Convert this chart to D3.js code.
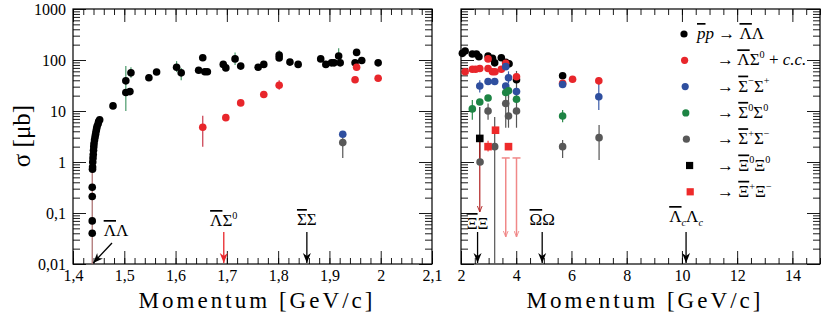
<!DOCTYPE html>
<html>
<head>
<meta charset="utf-8">
<script src="https://cdn.jsdelivr.net/npm/d3@7"></script>
<style>
  body { margin: 0; background: #fff; }
  svg text { font-family: "Liberation Serif", "Times New Roman", Times, serif !important; fill: #000; }
</style>
</head>
<body>
<div id="chart"><svg></svg></div>
<script>
// momentum [GeV/c], cross section [mub]
const lambdaLambda = [
  [1.4375, 0.04], [1.4375, 0.07], [1.4375, 0.21], [1.4375, 0.32], [1.438, 0.72], [1.4382, 0.8],
  [1.4385, 1.0], [1.439, 1.2], [1.4395, 1.4], [1.440, 1.7], [1.4405, 2.0], [1.441, 2.3],
  [1.442, 2.7], [1.443, 3.1], [1.444, 3.5], [1.445, 4.0], [1.446, 4.5], [1.447, 5.0],
  [1.449, 5.6], [1.450, 6.2], [1.452, 6.7], [1.478, 12.6], [1.503, 23], [1.503, 39],
  [1.511, 24], [1.513, 56], [1.548, 45], [1.563, 58], [1.602, 72], [1.611, 56],
  [1.645, 63], [1.653, 111], [1.657, 59], [1.662, 59], [1.693, 82], [1.698, 70],
  [1.716, 105], [1.727, 76], [1.761, 72], [1.772, 82], [1.802, 125], [1.802, 110],
  [1.823, 91], [1.839, 82], [1.883, 105], [1.893, 82], [1.904, 88], [1.909, 88],
  [1.918, 120], [1.921, 88], [1.950, 88], [1.953, 141], [1.963, 98], [1.995, 88],
  [2.05, 135], [2.15, 150], [2.41, 131], [2.56, 131], [2.65, 116], [2.98, 120],
  [3.14, 108], [3.22, 88], [3.46, 111], [3.62, 90], [3.74, 84], [4.01, 41], [5.68, 49]
];
const lambdaSigma0 = [
  [1.653, 4.8], [1.698, 7.4], [1.727, 14.4], [1.772, 21], [1.802, 32], [1.950, 41],
  [1.953, 72], [1.995, 44], [2.15, 59], [2.41, 66], [2.53, 66], [2.68, 68], [2.98, 105],
  [2.98, 68], [3.14, 59], [3.23, 59], [3.46, 66], [3.62, 86], [4.01, 47], [5.68, 35],
  [6.04, 42], [6.99, 39]
];
const sigmaMinusPlus = [
  [1.926, 3.5], [2.68, 31], [2.98, 38], [3.22, 38], [3.62, 74], [3.72, 45], [3.62, 31],
  [4.01, 24], [5.68, 33], [6.99, 19]
];
const sigma00 = [[2.41, 11], [2.68, 15], [2.98, 18], [3.62, 23], [3.72, 25], [4.01, 17], [5.68, 8]];
const sigmaPlusMinus = [
  [1.926, 2.4], [2.69, 1.0], [2.98, 10], [3.22, 2.0], [3.62, 14], [3.72, 8], [4.01, 10],
  [5.68, 2.0], [7.0, 3.0]
];
const xi00 = [[2.68, 2.9]];
const xiPlusMinus = [[2.98, 2.0], [3.25, 4.2], [3.72, 2.0]];

// error bars: [p, low, high]
const errLambdaLambda = [[1.503, 10, 76], [1.513, 45, 72], [1.602, 58, 95], [1.611, 40, 70],
  [1.716, 80, 140], [1.802, 110, 155], [1.918, 100, 170]];
const errLambdaSigma0 = [[1.653, 2.0, 8.1], [1.802, 26, 40], [4.01, 35, 55], [6.99, 33, 46]];
const errSigmaMinusPlus = [[2.68, 23, 40], [6.99, 10.5, 35], [3.72, 35, 60]];
const errSigma00 = [[2.41, 6.7, 16.5], [5.68, 6, 10.5], [3.72, 18, 32]];
const errSigmaPlusMinus = [[1.926, 1.2, 3.0], [2.98, 6.7, 14], [3.22, 0.01, 7.6], [3.62, 4.7, 24],
  [3.72, 4.7, 26], [4.01, 4.7, 61], [5.68, 1.2, 2.7], [7.0, 1.1, 5.3]];
const errXi00 = [[2.68, 1.0, 12]];
const errXiPlusMinus = [[2.98, 1.6, 2.6]];

// upper limits / threshold lines: [p, top, bottom]
const limitsPink = [[3.62, 1.2, 0.034], [4.01, 1.2, 0.034]];
const limitsDark = [[2.68, 2.9, 0.105]];
const thresholdLine = [[1.4375, 1.5, 0.01]];

const yTicks = [0.01, 0.1, 1, 10, 100, 1000];
const yTickLabels = ['0,01', '0,1', '1', '10', '100', '1000'];
const leftXTicks = [1.4, 1.5, 1.6, 1.7, 1.8, 1.9, 2.0, 2.1];
const leftXTickLabels = ['1,4', '1,5', '1,6', '1,7', '1,8', '1,9', '2', '2,1'];
const rightXTicks = [2, 4, 6, 8, 10, 12, 14];

const width = 822;
const height = 321;
const plotTop = 9;
const plotBottom = 264;
const serif = '"Liberation Serif", "Times New Roman", Times, serif';

const svg = d3.select('#chart svg').attr('width', width).attr('height', height)
  .attr('font-family', serif);

const y = d3.scaleLog().domain([0.01, 1000]).range([plotBottom, plotTop]);
const yMinor = [];
[0.01, 0.1, 1, 10, 100].forEach(function(d) {
  for (let k = 2; k <= 9; k++) yMinor.push(d * k);
});

// left panel holds data up to 2.0 GeV/c, right panel the rest
const panels = [
  { x: d3.scaleLinear().domain([1.4, 2.1]).range([73, 432]), pMin: 1.4, pMax: 2.0, ticks: leftXTicks, labels: leftXTickLabels, minor: 0.02, yLabels: true },
  { x: d3.scaleLinear().domain([2, 15]).range([461, 820]), pMin: 2.0001, pMax: 15, ticks: rightXTicks, labels: rightXTicks.map(String), minor: 0.5, yLabels: false }
];

const series = [
  { name: 'll', data: lambdaLambda, err: errLambdaLambda, color: '#000', errColor: '#4a9a6a', shape: 'circle' },
  { name: 'ls', data: lambdaSigma0, err: errLambdaSigma0, color: '#e8262b', errColor: '#c8384a', shape: 'circle' },
  { name: 'smp', data: sigmaMinusPlus, err: errSigmaMinusPlus, color: '#2f4f9f', errColor: '#3a5aa8', shape: 'circle' },
  { name: 's00', data: sigma00, err: errSigma00, color: '#1d8444', errColor: '#2a8a4a', shape: 'circle' },
  { name: 'spm', data: sigmaPlusMinus, err: errSigmaPlusMinus, color: '#585858', errColor: '#555', shape: 'circle' },
  { name: 'x00', data: xi00, err: errXi00, color: '#000', errColor: '#222', shape: 'square' },
  { name: 'xpm', data: xiPlusMinus, err: errXiPlusMinus, color: '#ee2a2a', errColor: '#e44', shape: 'square' }
];

// rich text: segments {t, it, over, sup, sub}
function richText(sel, segs, fs) {
  let shift = 0;
  segs.forEach(function(s) {
    const target = s.sup ? -fs * 0.42 : (s.sub ? fs * 0.25 : 0);
    const t = sel.append('tspan').text(s.t).attr('dy', target - shift);
    shift = target;
    if (s.sup || s.sub) t.style('font-size', (fs * 0.6) + 'px');
    if (s.it) t.style('font-style', 'italic');
    if (s.over) t.style('text-decoration', 'overline');
  });
}

const defs = svg.append('defs');
function arrowMarker(id, color) {
  defs.append('marker').attr('id', id)
    .attr('viewBox', '0 0 10 10').attr('refX', 10).attr('refY', 5)
    .attr('markerWidth', 10).attr('markerHeight', 10).attr('markerUnits', 'userSpaceOnUse')
    .attr('orient', 'auto')
    .append('path').attr('d', 'M0,1 L10,5 L0,9 L3,5 Z').attr('fill', color);
}
arrowMarker('arrBlack', '#000');
arrowMarker('arrRed', '#e8262b');
function openMarker(id, color) {
  defs.append('marker').attr('id', id)
    .attr('viewBox', '0 0 10 10').attr('refX', 10).attr('refY', 5)
    .attr('markerWidth', 6).attr('markerHeight', 6).attr('markerUnits', 'userSpaceOnUse')
    .attr('orient', 'auto')
    .append('path').attr('d', 'M0,1 L10,5 L0,9').attr('fill', 'none').attr('stroke', color).attr('stroke-width', 1.5);
}
openMarker('limPink', '#f08888');
openMarker('limDark', '#b02020');

panels.forEach(function(pn, i) {
  const x = pn.x;
  const [x0, x1] = x.range();
  const g = svg.append('g').attr('class', 'panel-' + i);
  const inDomain = function(d) { return d[0] >= pn.pMin && d[0] <= pn.pMax; };

  // axes
  const xMinor = d3.range(x.domain()[0], x.domain()[1] + 1e-9, pn.minor);
  g.append('g').attr('transform', 'translate(0,' + plotBottom + ')')
    .call(d3.axisBottom(x).tickValues(xMinor).tickSizeInner(-6).tickSizeOuter(0).tickFormat(''));
  g.append('g').attr('transform', 'translate(0,' + plotBottom + ')')
    .call(d3.axisBottom(x).tickValues(pn.ticks).tickSizeInner(-13).tickSizeOuter(0).tickPadding(6)
      .tickFormat(function(d, j) { return pn.labels[j]; }));
  g.append('g').attr('transform', 'translate(0,' + plotTop + ')')
    .call(d3.axisTop(x).tickValues(xMinor).tickSizeInner(-6).tickSizeOuter(0).tickFormat(''));
  g.append('g').attr('transform', 'translate(0,' + plotTop + ')')
    .call(d3.axisTop(x).tickValues(pn.ticks).tickSizeInner(-13).tickSizeOuter(0).tickFormat(''));

  g.append('g').attr('transform', 'translate(' + x0 + ',0)')
    .call(d3.axisLeft(y).tickValues(yMinor).tickSizeInner(-7).tickSizeOuter(0).tickFormat(''));
  g.append('g').attr('transform', 'translate(' + x0 + ',0)')
    .call(d3.axisLeft(y).tickValues(yTicks).tickSizeInner(-13).tickSizeOuter(0).tickPadding(7)
      .tickFormat(function(d, j) { return pn.yLabels ? yTickLabels[j] : ''; }));
  g.append('g').attr('transform', 'translate(' + x1 + ',0)')
    .call(d3.axisRight(y).tickValues(yMinor).tickSizeInner(-7).tickSizeOuter(0).tickFormat(''));
  g.append('g').attr('transform', 'translate(' + x1 + ',0)')
    .call(d3.axisRight(y).tickValues(yTicks).tickSizeInner(-13).tickSizeOuter(0).tickFormat(''));

  g.selectAll('.domain').remove();
  g.selectAll('g').attr('font-family', serif);
  g.selectAll('.tick line').attr('stroke', '#000').attr('stroke-width', 0.9);
  g.selectAll('.tick text').style('font-size', '16px').attr('fill', '#000');

  g.append('rect').attr('x', x0).attr('y', plotTop).attr('width', x1 - x0).attr('height', plotBottom - plotTop)
    .attr('fill', 'none').attr('stroke', '#000').attr('stroke-width', 1.2);

  // x title
  g.append('text').attr('x', (x0 + x1) / 2 + 3).attr('y', 308).attr('text-anchor', 'middle')
    .attr('textLength', 234).attr('lengthAdjust', 'spacing')
    .style('font-size', '23px').text('Momentum [GeV/c]');

  const plot = g.append('g');

  thresholdLine.filter(inDomain).forEach(function(d) {
    plot.append('line').attr('x1', x(d[0])).attr('x2', x(d[0])).attr('y1', y(d[1])).attr('y2', y(d[2]))
      .attr('stroke', '#a86a6a').attr('stroke-width', 1.2);
  });

  series.forEach(function(s) {
    s.err.filter(inDomain).forEach(function(e) {
      plot.append('line').attr('x1', x(e[0])).attr('x2', x(e[0])).attr('y1', y(e[1])).attr('y2', y(e[2]))
        .attr('stroke', s.errColor).attr('stroke-width', 1.2);
    });
  });

  limitsDark.filter(inDomain).forEach(function(d) {
    plot.append('line').attr('x1', x(d[0])).attr('x2', x(d[0])).attr('y1', y(d[1])).attr('y2', y(d[2]))
      .attr('stroke', '#b02020').attr('stroke-width', 1.2).attr('marker-end', 'url(#limDark)');
  });
  limitsPink.filter(inDomain).forEach(function(d) {
    plot.append('line').attr('x1', x(d[0]) - 4).attr('x2', x(d[0]) + 4).attr('y1', y(d[1])).attr('y2', y(d[1]))
      .attr('stroke', '#f08888').attr('stroke-width', 1.5);
    plot.append('line').attr('x1', x(d[0])).attr('x2', x(d[0])).attr('y1', y(d[1])).attr('y2', y(d[2]))
      .attr('stroke', '#f08888').attr('stroke-width', 1.5).attr('marker-end', 'url(#limPink)');
  });

  series.forEach(function(s) {
    const pts = s.data.filter(inDomain);
    if (s.shape === 'circle') {
      plot.selectAll(null).data(pts).enter().append('circle')
        .attr('cx', function(d) { return x(d[0]); })
        .attr('cy', function(d) { return y(d[1]); })
        .attr('r', 3.8).attr('fill', s.color);
    } else {
      plot.selectAll(null).data(pts).enter().append('rect')
        .attr('x', function(d) { return x(d[0]) - 3.8; })
        .attr('y', function(d) { return y(d[1]) - 3.8; })
        .attr('width', 7.6).attr('height', 7.6).attr('fill', s.color);
    }
  });
});

// threshold annotations
const thresholds = [
  { p: 1.4375, panel: 0, color: '#000', label: [{ t: 'Λ', over: true }, { t: 'Λ' }], lx: 116, ly: 236, tail: [112, 243] },
  { p: 1.694, panel: 0, color: '#e8262b', label: [{ t: 'Λ', over: true }, { t: 'Σ' }, { t: '0', sup: true }], ly: 226 },
  { p: 1.856, panel: 0, color: '#000', label: [{ t: 'Σ', over: true }, { t: 'Σ' }], ly: 225 },
  { p: 2.6, panel: 1, color: '#000', label: [{ t: 'Ξ', over: true }, { t: 'Ξ' }], ly: 229 },
  { p: 4.94, panel: 1, color: '#000', label: [{ t: 'Ω', over: true }, { t: 'Ω' }], ly: 225 },
  { p: 10.15, panel: 1, color: '#000', label: [{ t: 'Λ', over: true }, { t: 'c', sub: true, it: true }, { t: 'Λ' }, { t: 'c', sub: true, it: true }], ly: 222 }
];
const ann = svg.append('g').attr('class', 'thresholds');
thresholds.forEach(function(t) {
  const px = panels[t.panel].x(t.p);
  const tail = t.tail || [px, 232];
  ann.append('line').attr('x1', tail[0]).attr('y1', tail[1]).attr('x2', px + (t.tail ? 1 : 0)).attr('y2', plotBottom - 1)
    .attr('stroke', t.color).attr('stroke-width', 1.3)
    .attr('marker-end', t.color === '#000' ? 'url(#arrBlack)' : 'url(#arrRed)');
  const txt = ann.append('text').attr('x', t.lx || px).attr('y', t.ly).attr('text-anchor', 'middle')
    .style('font-size', '17px');
  richText(txt, t.label, 17);
});

// legend
const legendItems = [
  { color: '#000', shape: 'circle', x: 697, label: [{ t: 'p', it: true, over: true }, { t: 'p', it: true }, { t: ' → ' }, { t: 'Λ', over: true }, { t: 'Λ' }] },
  { color: '#e8262b', shape: 'circle', x: 717, label: [{ t: '→ ' }, { t: 'Λ', over: true }, { t: 'Σ' }, { t: '0', sup: true }, { t: ' + ' }, { t: 'c.c.', it: true }] },
  { color: '#2f4f9f', shape: 'circle', x: 717, label: [{ t: '→ ' }, { t: 'Σ', over: true }, { t: '−', sup: true }, { t: 'Σ' }, { t: '+', sup: true }] },
  { color: '#1d8444', shape: 'circle', x: 717, label: [{ t: '→ ' }, { t: 'Σ', over: true }, { t: '0', sup: true }, { t: 'Σ' }, { t: '0', sup: true }] },
  { color: '#585858', shape: 'circle', x: 717, label: [{ t: '→ ' }, { t: 'Σ', over: true }, { t: '+', sup: true }, { t: 'Σ' }, { t: '−', sup: true }] },
  { color: '#000', shape: 'square', x: 717, label: [{ t: '→ ' }, { t: 'Ξ', over: true }, { t: '0', sup: true }, { t: 'Ξ' }, { t: '0', sup: true }] },
  { color: '#ee2a2a', shape: 'square', x: 717, label: [{ t: '→ ' }, { t: 'Ξ', over: true }, { t: '+', sup: true }, { t: 'Ξ' }, { t: '−', sup: true }] }
];
const legend = svg.append('g').attr('class', 'legend');
legendItems.forEach(function(it, i) {
  const ly = 34 + i * 26.3;
  if (it.shape === 'circle') {
    legend.append('circle').attr('cx', 684 + i * 0.6).attr('cy', ly).attr('r', 3.6).attr('fill', it.color);
  } else {
    legend.append('rect').attr('x', 683 + i * 0.6).attr('y', ly - 3.6).attr('width', 7.2).attr('height', 7.2).attr('fill', it.color);
  }
  const txt = legend.append('text').attr('x', it.x).attr('y', ly + 5).style('font-size', '17px');
  richText(txt, it.label, 17);
});

// y title
svg.append('text').attr('transform', 'translate(30,136) rotate(-90)').attr('text-anchor', 'middle')
  .style('font-size', '25px').text('σ [μb]');
</script>
</body>
</html>
